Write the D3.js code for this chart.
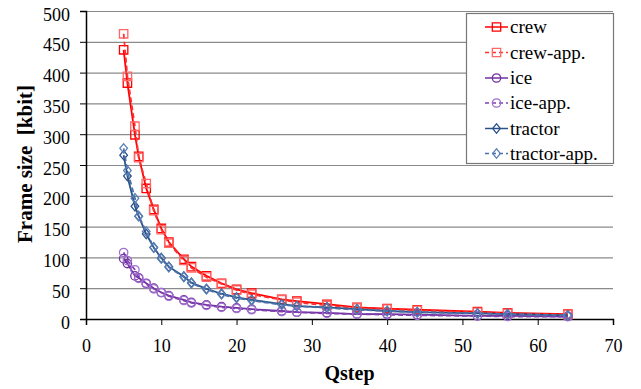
<!DOCTYPE html>
<html><head><meta charset="utf-8">
<script src="https://cdn.jsdelivr.net/npm/d3@7"></script>
<style>body{margin:0;background:#fff}svg{display:block}</style>
</head><body><svg id="c" width="641" height="389" font-family="Liberation Serif"></svg>
<script>
const qstep = [5,5.5,6.5,7,8,9,10,11,13,14,16,18,20,22,26,28,32,36,40,44,52,56,64];
const crew = [437,383,299,264,212,178,147,125,97,85,70,58,48,42,32,29,24,19,17,15,12,10,8];
const crewApp = [463,394,313,262,220,176,145,123,95,83,68,57,47,40,31,27,22,18,16,14,11,9,7];
const ice = [98,90,70,67,58,50,43,38,31,27,23,20,18,16,13,11,10,8,8,7,5,5,4];
const iceApp = [108,95,80,66,57,49,43,37,30,26,22,19,17,15,12,11,9,8,7,6,5,4,4];
const tractor = [266,232,183,167,138,116,99,85,69,59,49,41,35,31,24,21,19,16,13,11,9,8,6];
const tractorApp = [277,241,196,167,142,116,98,84,68,58,48,40,34,30,23,21,18,15,13,11,9,8,6];
const xTicks = [0,10,20,30,40,50,60,70];
const yTicks = [0,50,100,150,200,250,300,350,400,450,500];
const seriesNames = ["crew","crew-app.","ice","ice-app.","tractor","tractor-app."];

const series = [
  {name:seriesNames[0], v:crew, color:"#FF0000", mcolor:"#FF0000", dash:null, shape:"square"},
  {name:seriesNames[1], v:crewApp, color:"#FF3030", mcolor:"#FF6666", dash:"5,3", shape:"square"},
  {name:seriesNames[2], v:ice, color:"#7030A0", mcolor:"#7030A0", dash:null, shape:"circle"},
  {name:seriesNames[3], v:iceApp, color:"#8040B0", mcolor:"#A070D0", dash:"5,3", shape:"circle"},
  {name:seriesNames[4], v:tractor, color:"#2A5288", mcolor:"#2A5288", dash:null, shape:"diamond"},
  {name:seriesNames[5], v:tractorApp, color:"#4A70A8", mcolor:"#5B80B8", dash:"5,3", shape:"diamond"}
];

const FONT = "Liberation Serif";
const svg = d3.select("#c");
const L=86, R=613, T=11, B=319;
const x = d3.scaleLinear().domain([0,70]).range([L,R]);
const y = d3.scaleLinear().domain([0,500]).range([B,T]);

// gridlines
svg.append("g").selectAll("line").data(yTicks.filter(d=>d>0)).join("line")
  .attr("x1",L).attr("x2",R).attr("y1",d=>y(d)+0.5).attr("y2",d=>y(d)+0.5)
  .attr("stroke","#8a8a8a").attr("stroke-width",1.2);

// axes
const xa = svg.append("g").attr("transform",`translate(0,${B})`)
  .call(d3.axisBottom(x).tickValues(xTicks).tickSize(6).tickPadding(11));
const ya = svg.append("g").attr("transform",`translate(${L},0)`)
  .call(d3.axisLeft(y).tickValues(yTicks).tickSize(6).tickPadding(10));
[xa,ya].forEach(a=>{
  a.attr("font-family",FONT).attr("font-size",18);
  a.select(".domain").attr("stroke","#000").attr("stroke-width",1.5);
  a.selectAll(".tick line").attr("stroke","#000");
  a.selectAll("text").attr("font-size",18).attr("fill","#000").attr("font-family",FONT);
});
xa.selectAll("text").attr("dy","0.9em");
ya.selectAll("text").attr("dy","0.5em");

// titles
svg.append("text").attr("x",(L+R)/2).attr("y",380).attr("text-anchor","middle").attr("font-family",FONT)
  .attr("font-size",20).attr("font-weight","bold").text("Qstep");
svg.append("text").attr("transform",`translate(32,164) rotate(-90)`).attr("text-anchor","middle").attr("font-family",FONT)
  .attr("font-size",21).attr("font-weight","bold").attr("xml:space","preserve").style("white-space","pre").text("Frame size  [kbit]");

const sym = {square:d3.symbolSquare, circle:d3.symbolCircle, diamond:d3.symbolSquare};
const symSize = {square:70, circle:55, diamond:36};
function marker(g, s, cx, cy){
  return g.append("path").attr("d", d3.symbol().type(sym[s.shape]).size(symSize[s.shape])())
    .attr("transform",`translate(${cx},${cy})`+(s.shape==="diamond"?" scale(0.9,1.1) rotate(45)":""))
    .attr("fill","none").attr("stroke",s.mcolor).attr("stroke-width",1.3);
}

const line = d3.line().x(d=>x(d[0])).y(d=>y(d[1]));
const plot = svg.append("g");
series.forEach(s=>{
  const pts = qstep.map((q,i)=>[q,s.v[i]]);
  const g = plot.append("g");
  g.append("path").attr("d",line(pts)).attr("fill","none").attr("stroke",s.color)
    .attr("stroke-width",1.8).attr("stroke-dasharray",s.dash);
  pts.forEach(p=>marker(g,s,x(p[0]),y(p[1])));
});

// legend
const lg = svg.append("g");
lg.append("rect").attr("x",466.5).attr("y",13.5).attr("width",147).attr("height",150)
  .attr("fill","#fff").attr("stroke","#777").attr("stroke-width",1.2);
const rowY = [27,52.5,78,103,128.5,153.5];
series.forEach((s,i)=>{
  const yy = rowY[i];
  lg.append("line").attr("x1",485).attr("x2",508).attr("y1",yy).attr("y2",yy)
    .attr("stroke",s.color).attr("stroke-width",1.5).attr("stroke-dasharray",s.dash?"4,3":null);
  marker(lg,s,496.5,yy);
  lg.append("text").attr("x",510).attr("y",yy).attr("dy","0.33em").attr("font-size",19).attr("font-family",FONT).text(s.name);
});
</script></body></html>
